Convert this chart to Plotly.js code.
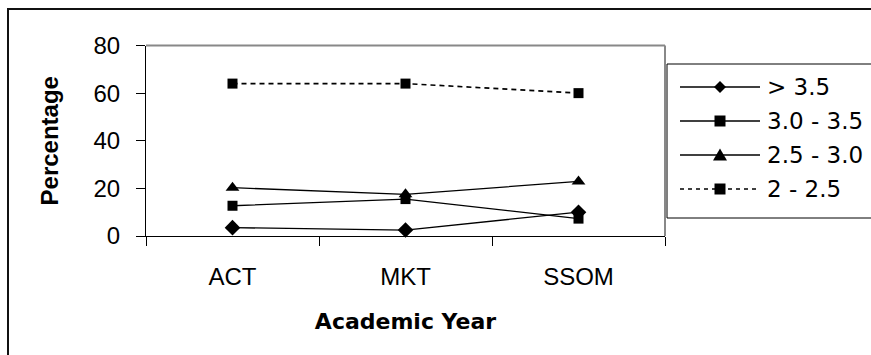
<!DOCTYPE html>
<html>
<head>
<meta charset="utf-8">
<script src="https://cdn.plot.ly/plotly-3.0.1.min.js"></script>
<style>
  html, body { margin: 0; padding: 0; background: #fff; }
  #chart { width: 871px; height: 355px; }
</style>
</head>
<body>
<div id="chart"></div>
<script>
// Grade-band share by programme
const categories = ['ACT', 'MKT', 'SSOM'];
const seriesNames = ['> 3.5', '3.0 - 3.5', '2.5 - 3.0', '2 - 2.5'];
const above35 = [3.5, 2.5, 10];
const from30to35 = [12.7, 15.5, 7.3];
const from25to30 = [20.3, 17.5, 22.9];
const from20to25 = [64, 64, 60];

const W = 871, H = 355;
// pixel -> paper helpers (margins are zero, so paper == page)
const X = px => px / W;
const Y = py => 1 - py / H;

const styles = [
  { symbol: 'diamond', size: 12, dash: 'solid', width: 1.3 },
  { symbol: 'square', size: 10, dash: 'solid', width: 1.3 },
  { symbol: 'triangle-up', size: 12, dash: 'solid', width: 1.3 },
  { symbol: 'square', size: 10, dash: '5px,4px', width: 1.7 }
];
const values = [above35, from30to35, from25to30, from20to25];

const traces = values.map((v, i) => ({
  type: 'scatter',
  mode: 'lines+markers',
  name: seriesNames[i],
  x: categories,
  y: v,
  line: { color: '#000', width: styles[i].width, dash: styles[i].dash },
  marker: { color: '#000', symbol: styles[i].symbol, size: styles[i].size },
  cliponaxis: false,
  showlegend: false
}));

// plot area box (pixels)
const PL = 146, PR = 665, PT = 45.5, PB = 236;

const shapes = [
  // outer chart frame
  { type: 'rect', xref: 'paper', yref: 'paper', x0: X(8), x1: X(900), y0: Y(380), y1: Y(9),
    line: { color: '#111', width: 2 }, fillcolor: 'rgba(0,0,0,0)' },
  // top and right edges of the plot area
  { type: 'line', xref: 'paper', yref: 'paper', x0: X(PL), x1: X(PR), y0: Y(PT), y1: Y(PT),
    line: { color: '#888', width: 2 } },
  { type: 'line', xref: 'paper', yref: 'paper', x0: X(PR), x1: X(PR), y0: Y(PT), y1: Y(PB),
    line: { color: '#888', width: 2 } },
  // legend box
  { type: 'rect', xref: 'paper', yref: 'paper', x0: X(667), x1: X(900), y0: Y(218), y1: Y(64),
    line: { color: '#000', width: 1 }, fillcolor: '#fff' }
];

const annotations = [];
const rowY = [87, 121, 155, 189];
seriesNames.forEach((name, i) => {
  const y = rowY[i];
  shapes.push({ type: 'line', xref: 'paper', yref: 'paper', x0: X(680), x1: X(760), y0: Y(y), y1: Y(y),
    line: { color: '#000', width: styles[i].width, dash: styles[i].dash === 'solid' ? 'solid' : '4px,4px' } });
  const cx = 720;
  if (styles[i].symbol === 'diamond') {
    shapes.push({ type: 'path', xref: 'paper', yref: 'paper',
      path: `M${X(cx)},${Y(y - 6)} L${X(cx + 6)},${Y(y)} L${X(cx)},${Y(y + 6)} L${X(cx - 6)},${Y(y)} Z`,
      fillcolor: '#000', line: { color: '#000', width: 0 } });
  } else if (styles[i].symbol === 'square') {
    shapes.push({ type: 'rect', xref: 'paper', yref: 'paper', x0: X(cx - 5.5), x1: X(cx + 5.5), y0: Y(y + 5.5), y1: Y(y - 5.5),
      fillcolor: '#000', line: { color: '#000', width: 0 } });
  } else {
    shapes.push({ type: 'path', xref: 'paper', yref: 'paper',
      path: `M${X(cx)},${Y(y - 6.5)} L${X(cx + 7)},${Y(y + 5.5)} L${X(cx - 7)},${Y(y + 5.5)} Z`,
      fillcolor: '#000', line: { color: '#000', width: 0 } });
  }
  annotations.push({ xref: 'paper', yref: 'paper', x: X(765), y: Y(y), xanchor: 'left', yanchor: 'middle',
    text: name, showarrow: false,
    font: { family: 'DejaVu Sans, Liberation Sans, sans-serif', size: 23, color: '#000' } });
});

const layout = {
  width: W, height: H,
  margin: { l: 0, r: 0, t: 0, b: 0 },
  paper_bgcolor: '#fff', plot_bgcolor: '#fff',
  font: { family: 'Liberation Sans, Arial, sans-serif', size: 24, color: '#000' },
  showlegend: false,
  xaxis: {
    type: 'category',
    domain: [X(PL), X(PR)],
    range: [-0.5, 2.5],
    showline: true, linecolor: '#000', linewidth: 1,
    ticks: 'outside', tickson: 'boundaries', ticklen: 9, tickcolor: '#000', tickwidth: 1,
    ticklabelstandoff: 19,
    showgrid: false, zeroline: false,
    tickfont: { size: 24 },
    title: { text: '<b>Academic Year</b>',
      font: { family: 'DejaVu Sans, Liberation Sans, sans-serif', size: 22 }, standoff: 24 }
  },
  yaxis: {
    domain: [Y(PB), Y(PT)],
    range: [0, 80], dtick: 20,
    showline: true, linecolor: '#000', linewidth: 1,
    ticks: 'outside', ticklen: 9, tickcolor: '#000', tickwidth: 1,
    ticklabelstandoff: 11,
    showgrid: false, zeroline: false,
    tickfont: { size: 24 },
    title: { text: '<b>Percentage</b>', font: { size: 24 }, standoff: 28 }
  },
  shapes: shapes,
  annotations: annotations
};

Plotly.newPlot('chart', traces, layout, { displayModeBar: false, staticPlot: true });
</script>
</body>
</html>
